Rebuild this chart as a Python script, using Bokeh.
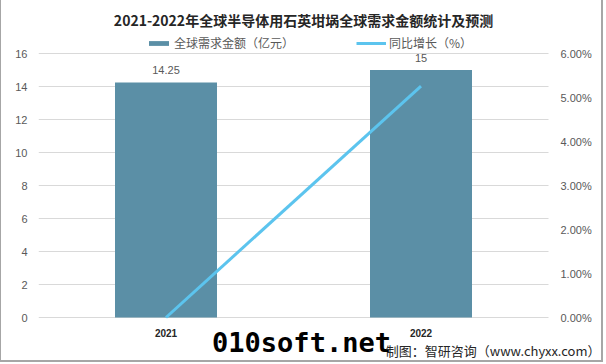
from bokeh.plotting import figure
from bokeh.models import (Range1d, NumeralTickFormatter, Label, ColumnDataSource,
                          FixedTicker, Legend, LegendItem)
from bokeh.embed import file_html
from bokeh.resources import INLINE

years = ["2021", "2022"]
demand = [14.25, 15]          # 全球需求金额（亿元）
growth = [0.0, 0.0526]        # 同比增长（%）
demand_labels = ["14.25", "15"]
left_ticks = [0, 2, 4, 6, 8, 10, 12, 14, 16]
right_ticks = [0.0, 0.01, 0.02, 0.03, 0.04, 0.05, 0.06]
right_tick_labels = ["0.00%", "1.00%", "2.00%", "3.00%", "4.00%", "5.00%", "6.00%"]

title_text = "2021-2022年全球半导体用石英坩埚全球需求金额统计及预测"
legend_bar = "全球需求金额（亿元）"
legend_line = "同比增长（%）"
source_text = "制图：智研咨询（www.chyxx.com）"
mark_text = "010soft.net"

BAR = "#5b8fa6"
LINE = "#5cc4ee"
TXT = "#595959"
GRID = "#d9d9d9"
FONT = "Noto Sans CJK SC"

BL, BR, BB = 1, 2, 2          # border widths (left, right, bottom)
W, H = 606 - BL - BR, 364 - BB
FL = 38 - BL                  # plot area left in canvas px
PLOT_R = 548 - BL             # plot area right in canvas px (end of grid lines)
ZERO_Y = 317                  # canvas y of value 0
TOP_Y = 53                    # canvas y of value 16
PPU = (ZERO_Y - TOP_Y) / 16.0
y0 = -(H - ZERO_Y) / PPU
y1 = ZERO_Y / PPU
r0 = y0 * 0.06 / 16
r1 = y1 * 0.06 / 16
n = len(years)
XPU = (PLOT_R - FL) / n       # pixels per category
x1 = (W - FL) / XPU

p = figure(width=W, height=H, x_range=Range1d(0, x1), y_range=Range1d(y0, y1),
           output_backend="svg", toolbar_location=None,
           min_border_left=FL, min_border_right=0, min_border_top=0, min_border_bottom=0)
p.outline_line_color = None
p.background_fill_color = "white"
p.border_fill_color = "white"
p.styles = {"border-left": f"{BL}px solid #a6a6a6", "border-right": f"{BR}px solid #a6a6a6",
            "border-bottom": f"{BB}px solid #a6a6a6"}
p.extra_y_ranges = {"pct": Range1d(r0, r1)}

xs = [i + 0.5 for i in range(n)]

# horizontal grid lines over the category span
grid = ColumnDataSource(dict(y=left_ticks, a=[0] * len(left_ticks), b=[n] * len(left_ticks)))
p.segment(x0="a", x1="b", y0="y", y1="y", source=grid, line_color=GRID, line_width=1)

src = ColumnDataSource(dict(x=xs, yr=years, y=demand, g=growth, lab=demand_labels, z=[0] * n))
bars = p.vbar(x="x", top="y", width=0.4, source=src, fill_color=BAR, line_color=None)
ln = p.line(x="x", y="g", source=src, y_range_name="pct", line_color=LINE, line_width=3)

p.text(x="x", y="y", text="lab", source=src, text_align="center", text_baseline="bottom",
       y_offset=-8, text_font_size="11px", text_color=TXT)
p.text(x="x", y="z", text="yr", source=src, text_align="center", text_baseline="middle",
       y_offset=15, text_font_size="10px", text_font_style="bold", text_color="#262626")

# secondary (percentage) scale labels
rsrc = ColumnDataSource(dict(y=right_ticks, t=right_tick_labels, x=[n] * len(right_ticks)))
p.text(x="x", y="y", text="t", source=rsrc, y_range_name="pct", x_offset=12,
       text_align="left", text_baseline="middle", text_font_size="11px", text_color=TXT)

p.xaxis.visible = False
p.xgrid.visible = False
p.ygrid.visible = False
ax = p.yaxis[0]
ax.ticker = FixedTicker(ticks=left_ticks)
ax.axis_line_color = None
ax.major_tick_line_color = None
ax.minor_tick_line_color = None
ax.major_label_text_color = TXT
ax.major_label_text_font_size = "11px"

def sx(cx):
    return cx - BL - FL

def sy(cy):
    return H - cy

def lab(cx, cy, t, size, color=TXT, bold=False, font=FONT, align="left"):
    p.add_layout(Label(x=sx(cx), y=sy(cy), x_units="screen", y_units="screen", text=t,
                       text_font_size=size, text_color=color, text_font=font,
                       text_font_style="bold" if bold else "normal",
                       text_align=align, text_baseline="middle"))

lab(303, 19, title_text, "14px", color="#262626", bold=True, align="center")
lab(301, 342, mark_text, "27px", color="black", bold=True, font="DejaVu Sans Mono", align="center")
lab(600, 350, source_text, "13px", color="#262626", align="right")

def leg(item_label, r, cx, cy_bottom, gw):
    lg = Legend(items=[LegendItem(label=item_label, renderers=[r])],
                location=(sx(cx), sy(cy_bottom)), padding=0, margin=0, border_line_color=None,
                background_fill_alpha=0, glyph_width=gw, glyph_height=6, label_height=8,
                label_standoff=3, label_text_font_size="12px", label_text_color=TXT,
                label_text_font=FONT)
    p.add_layout(lg, "center")

leg(legend_bar, bars, 146, 51, 25)
leg(legend_line, ln, 356, 51, 30)

open("out.html", "w").write(file_html(p, INLINE))
